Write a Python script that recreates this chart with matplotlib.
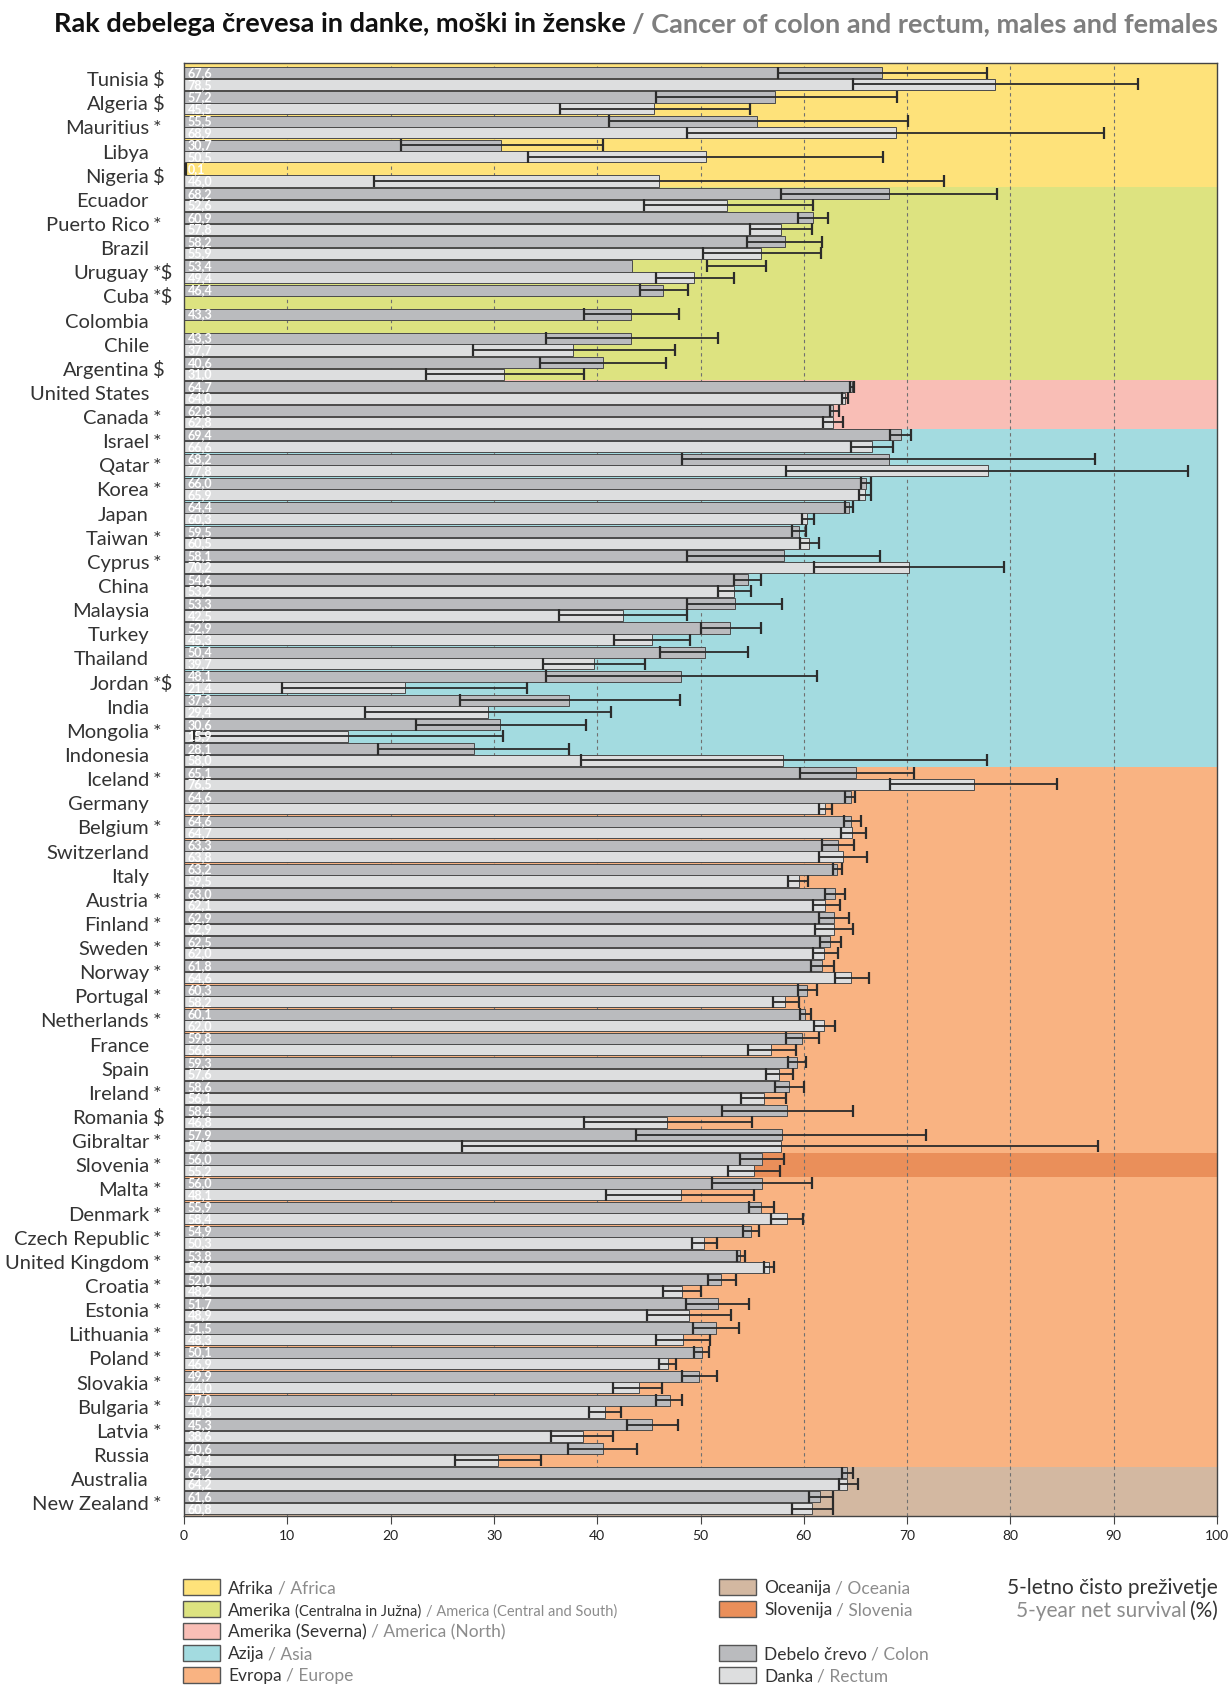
import numpy as np
import matplotlib
matplotlib.use('Agg')
import matplotlib.pyplot as plt
from matplotlib.patches import Rectangle
from matplotlib.transforms import blended_transform_factory

nan = np.nan

# data
countries = ['Tunisia', 'Algeria', 'Mauritius', 'Libya', 'Nigeria',
             'Ecuador', 'Puerto Rico', 'Brazil', 'Uruguay', 'Cuba', 'Colombia', 'Chile', 'Argentina',
             'United States', 'Canada',
             'Israel', 'Qatar', 'Korea', 'Japan', 'Taiwan', 'Cyprus', 'China', 'Malaysia', 'Turkey',
             'Thailand', 'Jordan', 'India', 'Mongolia', 'Indonesia',
             'Iceland', 'Germany', 'Belgium', 'Switzerland', 'Italy', 'Austria', 'Finland', 'Sweden',
             'Norway', 'Portugal', 'Netherlands', 'France', 'Spain', 'Ireland', 'Romania', 'Gibraltar',
             'Slovenia', 'Malta', 'Denmark', 'Czech Republic', 'United Kingdom', 'Croatia', 'Estonia',
             'Lithuania', 'Poland', 'Slovakia', 'Bulgaria', 'Latvia', 'Russia',
             'Australia', 'New Zealand']
marks = ['$', '$', '*', '', '$',
         '', '*', '', '*$', '*$', '', '', '$',
         '', '*',
         '*', '*', '*', '', '*', '*', '', '', '',
         '', '*$', '', '*', '',
         '*', '', '*', '', '', '*', '*', '*',
         '*', '*', '*', '', '', '*', '$', '*',
         '*', '*', '*', '*', '*', '*', '*',
         '*', '*', '*', '*', '*', '',
         '', '*']

region_counts = [5, 8, 2, 14, 29, 2]

colon = [67.6, 57.2, 55.5, 30.7, 0.1,
         68.2, 60.9, 58.2, 53.4, 46.4, 43.3, 43.3, 40.6,
         64.7, 62.8,
         69.4, 68.2, 66.0, 64.4, 59.5, 58.1, 54.6, 53.3, 52.9, 50.4, 48.1, 37.3, 30.6, 28.1,
         65.1, 64.6, 64.6, 63.3, 63.2, 63.0, 62.9, 62.5, 61.8, 60.3, 60.1, 59.8, 59.3, 58.6, 58.4,
         57.9, 56.0, 56.0, 55.9, 54.9, 53.8, 52.0, 51.7, 51.5, 50.1, 49.9, 47.0, 45.3, 40.6,
         64.2, 61.6]
colon_lo = [57.5, 45.7, 41.1, 21.0, 0.0,
            57.8, 59.4, 54.5, 50.6, 44.1, 38.7, 35.0, 34.5,
            64.5, 62.5,
            68.3, 48.2, 65.5, 64.0, 58.9, 48.7, 53.2, 48.7, 50.0, 46.1, 35.0, 26.7, 22.5, 18.8,
            59.6, 64.0, 63.9, 61.8, 62.8, 62.1, 61.5, 61.6, 60.7, 59.4, 59.6, 58.3, 58.5, 57.2, 52.1,
            43.8, 53.8, 51.1, 54.7, 54.1, 53.5, 50.7, 48.6, 49.3, 49.4, 48.2, 45.7, 42.9, 37.2,
            63.7, 60.5]
colon_hi = [77.7, 69.0, 70.1, 40.6, 0.2,
            78.7, 62.3, 61.8, 56.3, 48.8, 47.9, 51.7, 46.7,
            64.9, 63.4,
            70.4, 88.2, 66.5, 64.8, 60.2, 67.4, 55.9, 57.9, 55.9, 54.6, 61.3, 48.0, 38.9, 37.3,
            70.7, 65.0, 65.5, 64.9, 63.7, 64.0, 64.4, 63.6, 62.9, 61.3, 60.7, 61.5, 60.2, 60.0, 64.8,
            71.8, 58.1, 60.8, 57.1, 55.7, 54.3, 53.4, 54.7, 53.7, 50.8, 51.6, 48.2, 47.8, 43.9,
            64.8, 62.8]

rectum = [78.5, 45.5, 68.9, 50.5, 46.0,
          52.6, 57.8, 55.9, 49.4, nan, nan, 37.7, 31.0,
          64.0, 62.8,
          66.6, 77.8, 65.9, 60.3, 60.5, 70.2, 53.2, 42.5, 45.3, 39.7, 21.4, 29.4, 15.9, 58.0,
          76.5, 62.1, 64.7, 63.8, 59.5, 62.1, 62.9, 62.0, 64.6, 58.2, 62.0, 56.8, 57.6, 56.1, 46.8,
          57.8, 55.2, 48.1, 58.4, 50.3, 56.6, 48.2, 48.9, 48.3, 46.9, 44.0, 40.8, 38.6, 30.4,
          64.2, 60.8]
rectum_lo = [64.8, 36.4, 48.7, 33.3, 18.4,
             44.5, 54.8, 50.2, 45.7, nan, nan, 28.0, 23.4,
             63.7, 61.9,
             64.6, 58.3, 65.3, 59.8, 59.6, 61.0, 51.7, 36.3, 41.6, 34.8, 9.5, 17.5, 1.0, 38.4,
             68.3, 61.5, 63.6, 61.5, 58.5, 60.9, 61.1, 60.9, 63.0, 57.0, 61.0, 54.6, 56.3, 53.9, 38.7,
             26.9, 52.7, 40.9, 56.8, 49.2, 56.1, 46.4, 44.8, 45.7, 46.0, 41.5, 39.2, 35.5, 26.2,
             63.4, 58.9]
rectum_hi = [92.4, 54.8, 89.1, 67.7, 73.6,
             60.9, 60.8, 61.7, 53.2, nan, nan, 47.5, 38.7,
             64.3, 63.8,
             68.6, 97.2, 66.5, 61.0, 61.5, 79.4, 54.9, 48.7, 49.0, 44.6, 33.2, 41.3, 30.9, 77.7,
             84.5, 62.7, 66.0, 66.1, 60.4, 63.5, 64.8, 63.3, 66.3, 59.5, 63.0, 59.2, 59.0, 58.3, 55.0,
             88.5, 57.7, 55.2, 59.9, 51.6, 57.1, 50.0, 53.0, 50.9, 47.6, 46.3, 42.3, 41.5, 34.6,
             65.2, 62.8]

# in the original the Uruguay colon bar is drawn shorter than its label says
colon_bar_override = {'Uruguay': 43.4}

xticks = list(range(0, 101, 10))

# styling
W, H = 1232, 1686
region_colors = ['#FEE27A', '#DDE380', '#F9BEB6', '#A3DBE0', '#F9B382', '#D3B8A1']
slovenia_color = '#EA8F5A'
colon_color = '#BABBBE'
rectum_color = '#DDDEDF'
dark = '#2b2b2b'
name_col = '#333333'
gray_txt = '#8c8c8c'

plt.rcParams['font.family'] = ['Lato', 'DejaVu Sans']
LAT = ['Lato', 'DejaVu Sans']

fig = plt.figure(figsize=(W / 100, H / 100), dpi=100)
ax = fig.add_axes([184 / W, 1 - 1516 / H, (1217 - 184) / W, (1516 - 63) / H])

n = len(countries)
ypos = np.arange(n)
top_lim, bot_lim = -0.5 - 0.15, n - 0.5 + 0.05
ax.set_xlim(0, 100)
ax.set_ylim(bot_lim, top_lim)

# region bands
start = 0
for k, (cnt, col) in enumerate(zip(region_counts, region_colors)):
    y0 = top_lim if k == 0 else start - 0.5
    y1 = bot_lim if k == len(region_counts) - 1 else start + cnt - 0.5
    ax.axhspan(y0, y1, color=col, lw=0, zorder=0)
    start += cnt
si = countries.index('Slovenia')
ax.axhspan(si - 0.5, si + 0.5, color=slovenia_color, lw=0, zorder=0.5)

for g in xticks[1:-1]:
    ax.axvline(g, color='#707070', lw=0.8, ls=(0, (3, 3)), zorder=1)

colon_arr = np.array(colon)
colon_draw = np.array([colon_bar_override.get(c, v) for c, v in zip(countries, colon)])
rect_arr = np.array(rectum)
ok = ~np.isnan(rect_arr)

bh = 0.46
yc = ypos - 0.24
yr = ypos + 0.24
ax.barh(yc, colon_draw, height=bh, color=colon_color, edgecolor='#4a4a4a', lw=0.7, zorder=2)
ax.barh(yr[ok], rect_arr[ok], height=bh, color=rectum_color, edgecolor='#4a4a4a', lw=0.7, zorder=2)

# confidence intervals
for ys, lo, hi in [(yc, np.array(colon_lo), np.array(colon_hi)),
                   (yr[ok], np.array(rectum_lo)[ok], np.array(rectum_hi)[ok])]:
    ax.hlines(ys, lo, hi, color=dark, lw=1.3, zorder=4)
    ax.plot(lo, ys, ls='none', marker='|', ms=8, mew=1.6, color=dark, zorder=4)
    ax.plot(hi, ys, ls='none', marker='|', ms=8, mew=1.6, color=dark, zorder=4)

def fmt(v):
    return f'{v:.1f}'.replace('.', ',')

for y_, v in zip(yc, colon_arr):
    ax.text(0.35, y_ + 0.17, fmt(v), color='white', fontsize=9, fontweight='bold',
            ha='left', va='baseline', zorder=5)
for y_, v in zip(yr[ok], rect_arr[ok]):
    ax.text(0.35, y_ + 0.17, fmt(v), color='white', fontsize=9, fontweight='bold',
            ha='left', va='baseline', zorder=5)

# country names
trans = blended_transform_factory(fig.transFigure, ax.transData)
for i, (c, m) in enumerate(zip(countries, marks)):
    ax.text(149 / W, i + 0.31, c, transform=trans, ha='right', va='baseline',
            fontsize=14.5, fontweight='normal', color=name_col)
    if m:
        ax.text(153 / W, i + 0.31, m, transform=trans, ha='left', va='baseline',
                fontsize=14.5, fontweight='normal', color=name_col)

ax.set_yticks([])
ax.set_xticks(xticks)
ax.tick_params(axis='x', length=6, color='#444444', labelsize=10, labelcolor='#222222', pad=4)
for s in ax.spines.values():
    s.set_color('#444444')
    s.set_linewidth(1)

renderer = fig.canvas.get_renderer()

def put(x, y_base, parts, ha='left', gap=4):
    xs = x
    ts = []
    for s, c, fs, w in parts:
        t = fig.text(xs / W, 1 - y_base / H, s, color=c, fontsize=fs, fontweight=w,
                     family=LAT, ha='left', va='baseline')
        xs = t.get_window_extent(renderer).x1 + gap
        ts.append(t)
    if ha == 'right':
        d = (xs - gap) - x
        for t in ts:
            t.set_x(t.get_position()[0] - d / W)

# title
put(1218, 32, [('Rak debelega črevesa in danke, moški in ženske', '#111111', 19.5, 'bold'),
               ('/ Cancer of colon and rectum, males and females', '#7f7f7f', 19.5, 'bold')],
    ha='right', gap=6)

# legend
rows = [1587, 1609, 1631, 1653, 1675]
left_items = [
    (0, region_colors[0], [('Afrika', name_col, 12.5, 'normal'), ('/ Africa', gray_txt, 12.5, 'normal')]),
    (1, region_colors[1], [('Amerika', name_col, 12.5, 'normal'), ('(Centralna in Južna)', name_col, 10.5, 'normal'),
                           ('/ America (Central and South)', gray_txt, 10.5, 'normal')]),
    (2, region_colors[2], [('Amerika (Severna)', name_col, 12.5, 'normal'), ('/ America (North)', gray_txt, 12.5, 'normal')]),
    (3, region_colors[3], [('Azija', name_col, 12.5, 'normal'), ('/ Asia', gray_txt, 12.5, 'normal')]),
    (4, region_colors[4], [('Evropa', name_col, 12.5, 'normal'), ('/ Europe', gray_txt, 12.5, 'normal')]),
]
right_items = [
    (0, region_colors[5], [('Oceanija', name_col, 12.5, 'normal'), ('/ Oceania', gray_txt, 12.5, 'normal')]),
    (1, slovenia_color, [('Slovenija', name_col, 12.5, 'normal'), ('/ Slovenia', gray_txt, 12.5, 'normal')]),
    (3, colon_color, [('Debelo črevo', name_col, 12.5, 'normal'), ('/ Colon', gray_txt, 12.5, 'normal')]),
    (4, rectum_color, [('Danka', name_col, 12.5, 'normal'), ('/ Rectum', gray_txt, 12.5, 'normal')]),
]
for px, items in [(183, left_items), (719, right_items)]:
    for r, col, parts in items:
        yc_ = rows[r]
        fig.add_artist(Rectangle((px / W, 1 - (yc_ + 8) / H), 37 / W, 16 / H, transform=fig.transFigure,
                                 facecolor=col, edgecolor='#555555', lw=1))
        put(px + 45, yc_ + 6.5, parts)

put(1218, 1594, [('5-letno čisto preživetje', name_col, 15, 'normal')], ha='right')
put(1218, 1617, [('5-year net survival', gray_txt, 15, 'normal'), ('(%)', name_col, 15, 'normal')], ha='right')

fig.savefig('out.png', dpi=100)
